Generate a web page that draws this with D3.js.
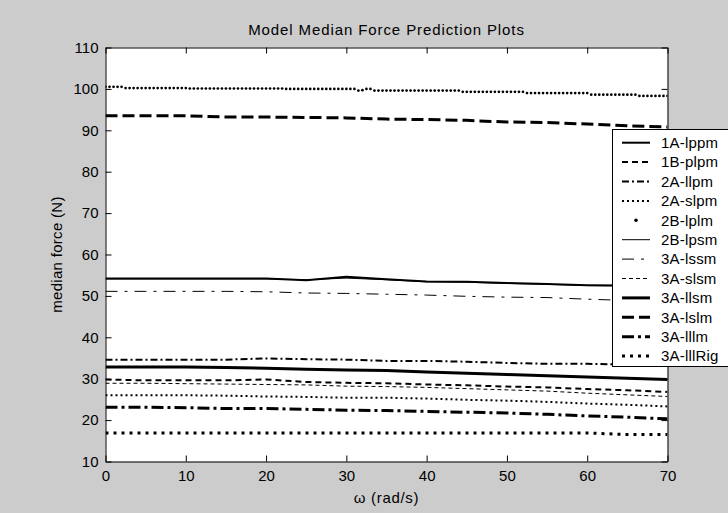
<!DOCTYPE html>
<html><head><meta charset="utf-8">
<script src="https://cdn.jsdelivr.net/npm/d3@7"></script>
<style>
body{margin:0;background:#cccccc;}
text{font-family:"Liberation Sans",Arial,Helvetica,sans-serif;fill:#000;}
</style>
</head><body>
<svg id="chart" width="728" height="513"></svg>
<script>
// ---------------- DATA ----------------
const omega = [0,5,10,15,20,25,30,35,40,45,50,55,60,65,70];
const omegaFine = d3.range(0, 70.01, 0.5); // x grid of the dotted-marker series (141 points)

const seriesNames = ["1A-lppm","1B-plpm","2A-llpm","2A-slpm","2B-lplm","2B-lpsm",
                     "3A-lssm","3A-slsm","3A-llsm","3A-lslm","3A-lllm","3A-lllRig"];

const v1A_lppm   = [54.2,54.2,54.2,54.2,54.2,53.8,54.6,54.0,53.5,53.4,53.1,52.9,52.6,52.5,52.3];
const v1B_plpm   = [29.8,29.6,29.6,29.6,29.8,29.2,29.0,28.9,28.6,28.4,28.1,27.9,27.5,27.2,26.8];
const v2A_llpm   = [34.6,34.6,34.6,34.6,34.9,34.7,34.6,34.3,34.3,34.1,33.8,33.6,33.6,33.4,33.2];
const v2A_slpm   = [26.0,26.0,26.0,25.9,25.7,25.6,25.4,25.4,25.2,24.9,24.7,24.4,24.0,23.7,23.3];
const v2B_lplm   = [
  100.5,100.5,100.5,100.5,100.5,
  100.2,100.2,100.2,100.2,100.2,100.2,100.2,100.2,100.2,100.2,100.2,100.2,100.2,100.2,100.2,100.2,
  100.1,100.1,100.1,100.1,100.1,100.1,100.1,100.1,100.1,100.1,100.1,100.1,
  100.1,100.1,100.1,100.1,100.1,100.1,100.1,100.1,100.1,100.1,100.1,100.1,
  100.0,100.0,100.0,100.0,100.0,100.0,100.0,100.0,100.0,100.0,100.0,
  100.0,100.0,100.0,100.0,100.0,100.0,100.0,99.6,99.7,100.0,100.0,
  99.6,99.6,99.6,99.6,99.6,99.6,99.6,99.6,99.6,99.6,99.6,
  99.6,99.6,99.6,99.6,99.6,99.6,99.6,99.6,99.6,99.6,99.6,
  99.3,99.3,99.3,99.3,99.3,99.3,99.3,99.3,99.3,99.3,99.3,99.3,99.3,99.3,99.3,99.3,
  99.0,99.0,99.0,99.0,99.0,99.0,99.0,99.0,99.0,99.0,99.0,99.0,99.0,99.0,99.0,99.0,
  98.6,98.6,98.6,98.6,98.6,98.6,98.6,98.6,98.6,98.6,98.6,98.6,
  98.3,98.3,98.3,98.3,98.3,98.3,98.3,98.3
];
const v2B_lpsm   = [54.1,54.1,54.1,54.1,54.1,53.9,54.3,53.9,53.4,53.3,53.0,52.8,52.5,52.4,52.2];
const v3A_lssm   = [51.1,51.1,51.1,51.1,51.0,50.7,50.6,50.4,50.2,49.9,49.7,49.6,49.2,48.9,48.6];
const v3A_slsm   = [28.9,28.9,28.8,28.7,28.6,28.5,28.2,28.1,27.9,27.6,27.3,27.0,26.5,26.1,25.7];
const v3A_llsm   = [32.8,32.8,32.8,32.7,32.55,32.3,32.1,32.0,31.6,31.3,31.0,30.7,30.4,30.1,29.8];
const v3A_lslm   = [93.5,93.5,93.5,93.2,93.2,93.1,93.0,92.7,92.6,92.4,92.0,91.9,91.5,91.1,90.8];
const v3A_lllm   = [23.1,23.1,23.0,22.8,22.8,22.6,22.4,22.3,22.1,21.9,21.7,21.4,21.0,20.7,20.3];
const v3A_lllRig = [16.9,16.9,16.9,16.9,16.9,16.9,16.9,16.9,16.9,16.9,16.9,16.9,16.9,16.5,16.5];

const xTicks = [0,10,20,30,40,50,60,70];
const yTicks = [10,20,30,40,50,60,70,80,90,100,110];

const titleText = "Model Median Force Prediction Plots";
const xLabel = "\u03c9 (rad/s)";
const yLabel = "median force (N)";

// ---------------- STYLES (separate from data) ----------------
const styles = {
  "1A-lppm":  {w:2,   dash:null},
  "1B-plpm":  {w:2,   dash:"6,4"},
  "2A-llpm":  {w:2,   dash:"7,3,2,3"},
  "2A-slpm":  {w:2,   dash:"2,3"},
  "2B-lplm":  {marker:true},
  "2B-lpsm":  {w:1,   dash:null},
  "3A-lssm":  {w:1,   dash:"12,7,3,7"},
  "3A-slsm":  {w:1,   dash:"4,3"},
  "3A-llsm":  {w:3,   dash:null},
  "3A-lslm":  {w:3,   dash:"12,5"},
  "3A-lllm":  {w:3,   dash:"12,4,3,4"},
  "3A-lllRig":{w:3,   dash:"3,5"}
};

const seriesList = [
  {name:"1A-lppm", xs:omega, ys:v1A_lppm},
  {name:"1B-plpm", xs:omega, ys:v1B_plpm},
  {name:"2A-llpm", xs:omega, ys:v2A_llpm},
  {name:"2A-slpm", xs:omega, ys:v2A_slpm},
  {name:"2B-lplm", xs:omegaFine, ys:v2B_lplm},
  {name:"2B-lpsm", xs:omega, ys:v2B_lpsm},
  {name:"3A-lssm", xs:omega, ys:v3A_lssm},
  {name:"3A-slsm", xs:omega, ys:v3A_slsm},
  {name:"3A-llsm", xs:omega, ys:v3A_llsm},
  {name:"3A-lslm", xs:omega, ys:v3A_lslm},
  {name:"3A-lllm", xs:omega, ys:v3A_lllm},
  {name:"3A-lllRig", xs:omega, ys:v3A_lllRig}
];

// ---------------- DRAW ----------------
const W = 728, H = 513;
const L = 105.5, R = 667.5, T = 47.5, B = 461.5;
const svg = d3.select("#chart");
svg.append("rect").attr("width",W).attr("height",H).attr("fill","#cccccc");

const x = d3.scaleLinear().domain([0,70]).range([L,R]);
const y = d3.scaleLinear().domain([10,110]).range([B,T]);

svg.append("rect").attr("x",L).attr("y",T).attr("width",R-L).attr("height",B-T).attr("fill","#fff");

svg.append("clipPath").attr("id","plotclip").append("rect")
  .attr("x",L).attr("y",T).attr("width",R-L).attr("height",B-T);

const plot = svg.append("g").attr("clip-path","url(#plotclip)");
const line = d3.line();

seriesList.forEach(s=>{
  const st = styles[s.name];
  const pts = s.xs.map((xv,i)=>[x(xv), y(s.ys[i])]);
  if (st.marker){
    plot.append("g").selectAll("circle").data(pts).join("circle")
      .attr("cx",d=>d[0]).attr("cy",d=>d[1]).attr("r",1.35).attr("fill","#000");
  } else {
    plot.append("path").attr("d",line(pts)).attr("fill","none").attr("stroke","#000")
      .attr("stroke-width",st.w).attr("stroke-dasharray",st.dash);
  }
});

// axes (inward ticks, box)
const fs = 15;
const gL = svg.append("g").attr("transform",`translate(${L},0)`)
  .call(d3.axisLeft(y).tickValues(yTicks).tickSizeInner(-6).tickSizeOuter(0).tickPadding(7).tickFormat(d3.format("d")));
const gB = svg.append("g").attr("transform",`translate(0,${B})`)
  .call(d3.axisBottom(x).tickValues(xTicks).tickSizeInner(-6).tickSizeOuter(0).tickPadding(9).tickFormat(d3.format("d")));
const gR = svg.append("g").attr("transform",`translate(${R},0)`)
  .call(d3.axisRight(y).tickValues(yTicks).tickSizeInner(-6).tickSizeOuter(0).tickFormat(""));
const gT = svg.append("g").attr("transform",`translate(0,${T})`)
  .call(d3.axisTop(x).tickValues(xTicks).tickSizeInner(-6).tickSizeOuter(0).tickFormat(""));
[gL,gB,gR,gT].forEach(g=>{
  g.selectAll("path,line").attr("stroke","#000").attr("stroke-width",1);
  g.selectAll("text").attr("font-size",fs).attr("font-family",'"Liberation Sans",Arial,sans-serif').attr("fill","#000");
});

// title & labels
svg.append("text").attr("x",(L+R)/2).attr("y",35).attr("text-anchor","middle")
  .attr("font-size",15).attr("letter-spacing","0.9px").text(titleText);
svg.append("text").attr("x",(L+R)/2).attr("y",503).attr("text-anchor","middle")
  .attr("font-size",15).attr("letter-spacing","0.7px").text(xLabel);
svg.append("text").attr("transform",`translate(62,${(T+B)/2}) rotate(-90)`).attr("text-anchor","middle")
  .attr("font-size",15).attr("letter-spacing","0.3px").text(yLabel);

// legend
const lg = svg.append("g");
const lgX = 612.5, lgY = 129.5, lgH = 237;
lg.append("rect").attr("x",lgX).attr("y",lgY).attr("width",140).attr("height",lgH)
  .attr("fill","#fff").attr("stroke","#000").attr("stroke-width",1);
seriesNames.forEach((n,i)=>{
  const cy = 142.7 + 19.4*i;
  const st = styles[n];
  if (st.marker){
    lg.append("circle").attr("cx",636).attr("cy",cy).attr("r",1.8).attr("fill","#000");
  } else {
    lg.append("line").attr("x1",622).attr("x2",650).attr("y1",cy).attr("y2",cy)
      .attr("stroke","#000").attr("stroke-width",st.w).attr("stroke-dasharray",st.dash);
  }
  lg.append("text").attr("x",661).attr("y",cy).attr("dy","0.35em").attr("font-size",15)
    .attr("letter-spacing","0.2px").text(n);
});
</script>
</body></html>
